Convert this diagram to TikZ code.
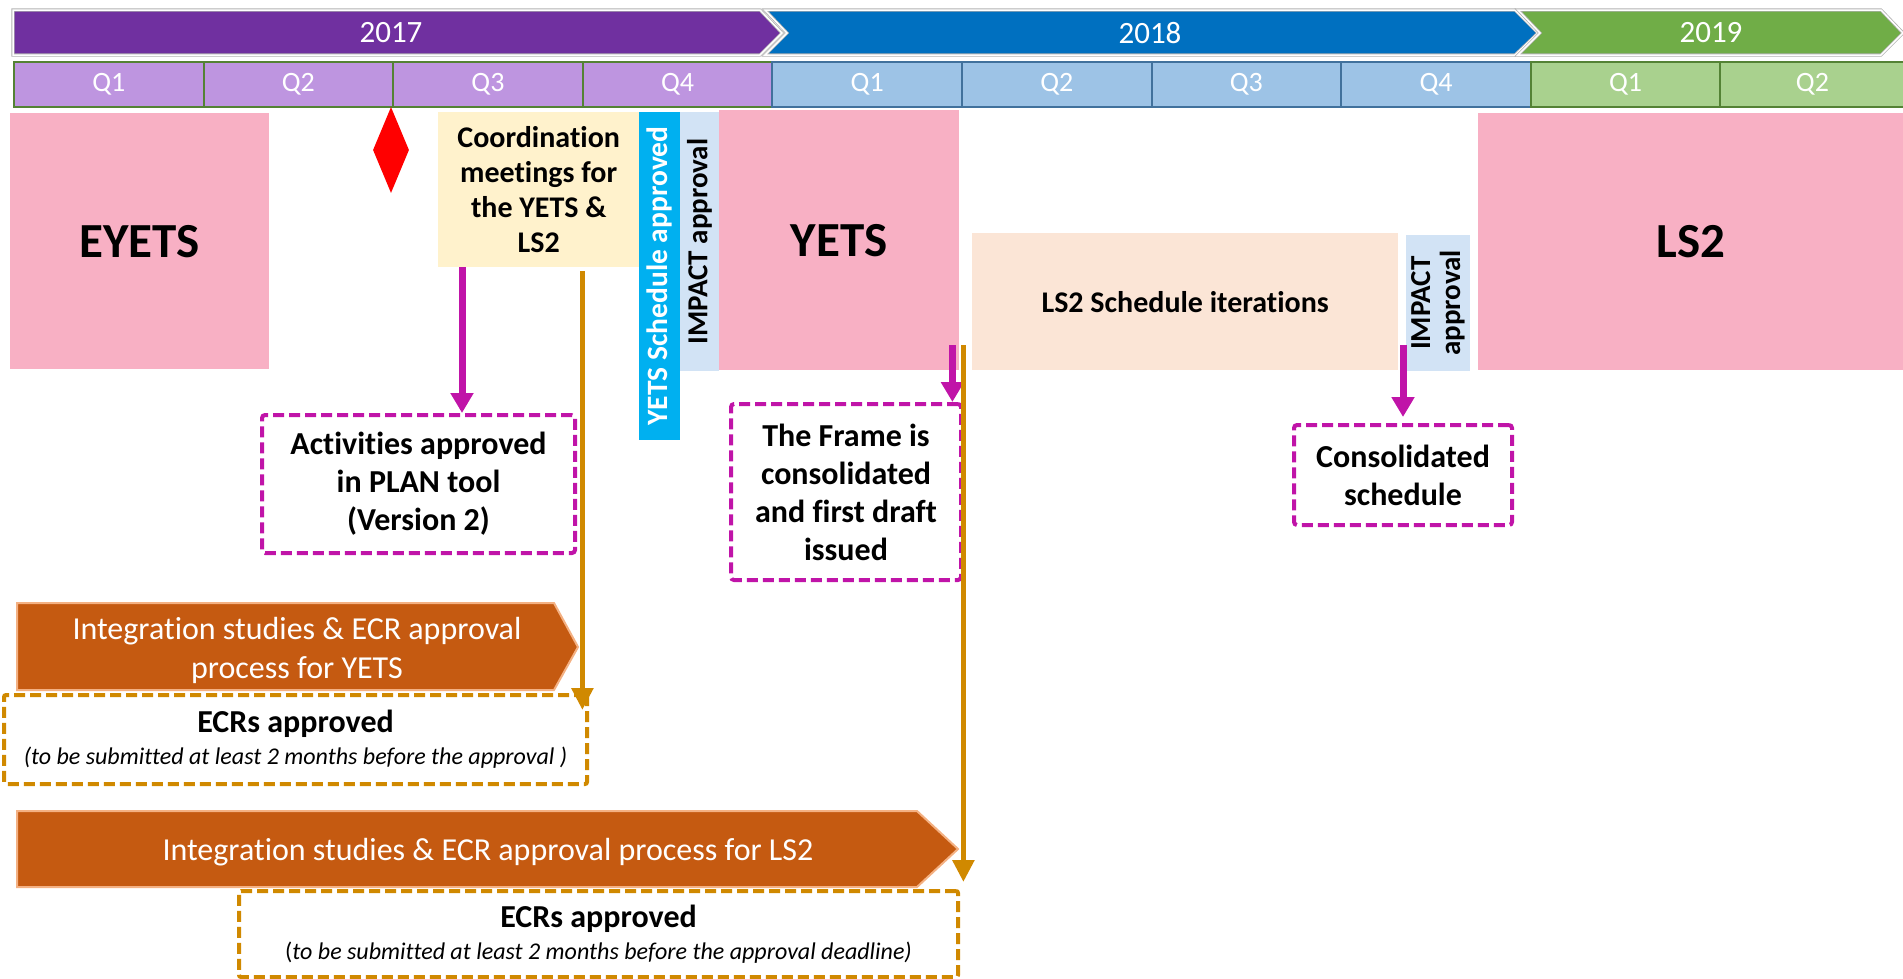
\documentclass[tikz,border=0pt]{standalone}
\usepackage{fontspec}
\setmainfont{Carlito}[Ligatures={NoCommon,NoContextual,NoRequired}]
\usepackage{tikz}
\usetikzlibrary{positioning}
\usetikzlibrary{arrows.meta}
\usetikzlibrary{shapes.geometric}

\definecolor{yrpurple}{RGB}{112,48,160}
\definecolor{yrblue}{RGB}{0,112,192}
\definecolor{yrgreen}{RGB}{112,173,71}
\definecolor{qpurple}{RGB}{190,149,224}
\definecolor{qblue}{RGB}{157,195,230}
\definecolor{qgreen}{RGB}{169,209,142}
\definecolor{qpurpleline}{RGB}{84,130,53}
\definecolor{qblueline}{RGB}{65,113,156}
\definecolor{qgreenline}{RGB}{84,130,53}
\definecolor{shutpink}{RGB}{248,176,196}
\definecolor{meetyellow}{RGB}{255,242,204}
\definecolor{approvcyan}{RGB}{0,176,240}
\definecolor{impactblue}{RGB}{210,227,245}
\definecolor{iterpeach}{RGB}{251,229,214}
\definecolor{studyorange}{RGB}{197,90,17}
\definecolor{studyedge}{RGB}{244,177,131}
\definecolor{linkmagenta}{RGB}{192,20,168}
\definecolor{linkorange}{RGB}{208,137,0}

\tikzset{
  yearbar/.style={draw=gray!60,double=white,double distance=1.5pt,line width=0.8pt},
  yearlab/.style={text=white,font=\fontsize{31}{37}\selectfont},
  qbox/.style={rectangle,anchor=north west,inner sep=0pt,line width=2pt,minimum height=45pt,text=white,font=\fontsize{28}{30}\selectfont},
  phasebox/.style={rectangle,anchor=north west,inner sep=0pt,fill=shutpink,font=\fontsize{49}{56}\selectfont\bfseries},
  plainbox/.style={rectangle,anchor=north west,inner sep=0pt,align=center,font=\fontsize{30}{35}\selectfont\bfseries},
  sidebox/.style={rectangle,rotate=90,inner sep=0pt,align=center,font=\fontsize{29}{30}\selectfont\bfseries},
  markbox/.style={rectangle,anchor=north west,inner sep=0pt,align=center,draw=linkmagenta,line width=4pt,dash pattern=on 11pt off 5pt,rounded corners=3pt,font=\fontsize{32}{38}\selectfont\bfseries},
  ecrbox/.style={rectangle,anchor=north west,inner sep=0pt,align=center,draw=linkorange,line width=4pt,dash pattern=on 11pt off 5pt,rounded corners=2pt,font=\fontsize{32}{32}\selectfont},
  studybar/.style={fill=studyorange,draw=studyedge,line width=2pt},
  studylab/.style={text=white,align=center,font=\fontsize{32}{39}\selectfont},
  linkm/.style={draw=linkmagenta,line width=7pt,-{Triangle[width=22pt,length=20pt]}},
  linko/.style={draw=linkorange,line width=5.5pt,-{Triangle[width=21pt,length=22pt]}}
}

\begin{document}
\begin{tikzpicture}[x=1pt,y=-1pt]
\useasboundingbox (0,0) rectangle (1903,978);

% years
\draw[yearbar,fill=yrpurple] (13,10) -- (760,10) -- (782,33) -- (760,55) -- (13,55) -- cycle;
\draw[yearbar,fill=yrblue] (765,10) -- (1515,10) -- (1538,33) -- (1515,55) -- (765,55) -- (787,33) -- cycle;
\draw[yearbar,fill=yrgreen] (1518,10) -- (1881,10) -- (1903,33) -- (1881,55) -- (1518,55) -- (1540,33) -- cycle;
\node[yearlab] (y2017) at (391,33) {2017};
\node[yearlab] (y2018) at (1150,33) {2018};
\node[yearlab] (y2019) at (1711,33) {2019};

% quarters
\foreach \i/\lab/\fc/\dc/\w in {0/Q1/qpurple/qpurpleline/189.6,1/Q2/qpurple/qpurpleline/189.6,2/Q3/qpurple/qpurpleline/189.6,3/Q4/qpurple/qpurpleline/189.6,4/Q1/qblue/qblueline/189.6,5/Q2/qblue/qblueline/189.6,6/Q3/qblue/qblueline/189.6,7/Q4/qblue/qblueline/189.6,8/Q1/qgreen/qgreenline/189.6,9/Q2/qgreen/qgreenline/184}
  \node[qbox,fill=\fc,draw=\dc,minimum width=\w pt] (q\i) at ({13+189.6*\i},61) {\lab};

% shutdowns
\node[phasebox,minimum width=259pt,minimum height=256pt] (eyets) at (10,113) {EYETS};
\node[phasebox,minimum width=240pt,minimum height=260pt] (yets) at (719,110) {YETS};
\node[phasebox,minimum width=425pt,minimum height=257pt] (ls2) at (1478,113) {LS2};

\node[diamond,fill=red,inner sep=0pt,minimum width=36pt,minimum height=86pt] (mile) at (391,150) {};

% planning steps
\node[plainbox,fill=meetyellow,minimum width=201pt,minimum height=155pt] (coord) at (438,112) {Coordination\\meetings for\\the YETS \&\\LS2};
\node[sidebox,fill=approvcyan,text=white,font=\fontsize{29.5}{30}\selectfont\bfseries,minimum width=328pt,minimum height=41pt] (yapp) at (659.5,276) {YETS Schedule approved};
\node[sidebox,fill=impactblue,minimum width=259pt,minimum height=39pt] (imp1) at (699.5,241.5) {IMPACT approval};
\node[plainbox,fill=iterpeach,minimum width=426pt,minimum height=137pt] (iter) at (972,233) {LS2 Schedule iterations};
\node[sidebox,fill=impactblue,minimum width=136pt,minimum height=64pt] (imp2) at (1438,303) {IMPACT\\approval};

% outcomes
\node[markbox,minimum width=313pt,minimum height=138pt] (act) at (260,413) {Activities approved\\in PLAN tool\\(Version 2)};
\node[markbox,minimum width=230pt,minimum height=176pt] (frame) at (729,402) {The Frame is\\consolidated\\and first draft\\issued};
\node[markbox,minimum width=218pt,minimum height=100pt] (cons) at (1292,423) {Consolidated\\schedule};

% integration studies
\draw[studybar] (17,603) -- (554,603) -- (578,647) -- (554,690) -- (17,690) -- cycle;
\node[studylab] (st1) at (297,650) {Integration studies \& ECR approval\\process for YETS};
\draw[studybar] (17,811) -- (917,811) -- (958,849) -- (917,887) -- (17,887) -- cycle;
\node[studylab] (st2) at (488,852) {Integration studies \& ECR approval process for LS2};

\node[ecrbox,minimum width=583pt,minimum height=89pt] (ecr1) at (2,693) {\textbf{ECRs approved}\\{\fontsize{24}{32}\selectfont\itshape (to be submitted at least 2 months before the approval )}};
\node[ecrbox,minimum width=719pt,minimum height=86pt] (ecr2) at (237,889) {\textbf{ECRs approved}\\{\fontsize{24}{32}\selectfont (\textit{to be submitted at least 2 months before the approval deadline)}}};

% links
\coordinate (m1) at ([xshift=24pt]coord.south west);
\draw[linkm] (m1) -- (m1 |- act.north);
\coordinate (m2) at ([xshift=-7pt,yshift=25pt]yets.south east);
\draw[linkm] (m2) -- (m2 |- frame.north);
\coordinate (m3) at ([yshift=25pt]iter.south);
\draw[linkm,shorten >=6pt] (m3 -| cons.north) -- (cons.north);

\coordinate (o1) at ([xshift=-57pt,yshift=-4pt]coord.south east);
\coordinate (o1e) at ([yshift=-17pt]ecr1.north);
\draw[linko] (o1) -- (o1 |- o1e);
\coordinate (o2) at ([xshift=4pt,yshift=25pt]yets.south east);
\draw[linko,shorten >=7pt] (o2) -- (o2 |- ecr2.north);

\end{tikzpicture}
\end{document}
